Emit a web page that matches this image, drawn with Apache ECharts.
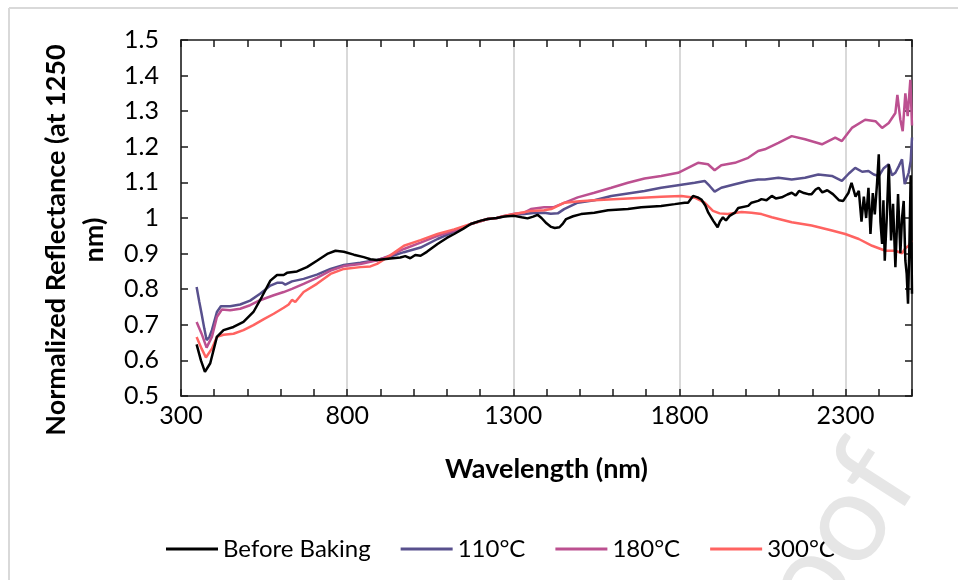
<html>
<head>
<meta charset="utf-8">
<title>Reflectance</title>
<script src="https://cdn.jsdelivr.net/npm/echarts@6/dist/echarts.min.js"></script>
</head>
<body style="margin:0">
<div id="main" style="width:958px;height:580px;"></div>
<script type="text/javascript">
// series names and colours
var names = ['Before Baking', '110°C', '180°C', '300°C'];
var colors = ['#000000', '#58508d', '#bc5090', '#ff6361'];

// Before Baking
var bbNm = [347, 360, 372, 388, 408, 428, 458, 488, 518, 543, 569, 589, 609, 619, 649, 679, 709, 740, 765, 790, 820, 850, 870, 890, 930, 960, 975, 990, 1005, 1021, 1040, 1072, 1100, 1122, 1150, 1172, 1200, 1223, 1250, 1273, 1303, 1325, 1343, 1360, 1373, 1385, 1400, 1414, 1425, 1439, 1450, 1459, 1480, 1504, 1544, 1585, 1645, 1685, 1745, 1786, 1816, 1826, 1841, 1855, 1866, 1878, 1887, 1902, 1915, 1922, 1931, 1940, 1951, 1967, 1977, 2007, 2017, 2037, 2047, 2062, 2078, 2090, 2108, 2125, 2138, 2150, 2160, 2175, 2188, 2198, 2210, 2219, 2230, 2245, 2262, 2280, 2293, 2309, 2318, 2330, 2340, 2348, 2355, 2362, 2369, 2375, 2382, 2388, 2395, 2400, 2405, 2410, 2414, 2418, 2424, 2430, 2437, 2443, 2450, 2454, 2458, 2465, 2470, 2475, 2480, 2484, 2488, 2492, 2496, 2500];
var bbVal = [0.645, 0.600, 0.568, 0.592, 0.666, 0.685, 0.694, 0.708, 0.736, 0.778, 0.824, 0.840, 0.840, 0.846, 0.850, 0.862, 0.880, 0.899, 0.908, 0.905, 0.897, 0.890, 0.884, 0.882, 0.886, 0.889, 0.893, 0.887, 0.896, 0.894, 0.905, 0.927, 0.944, 0.955, 0.970, 0.983, 0.992, 0.997, 1.000, 1.004, 1.006, 1.002, 0.999, 1.004, 1.009, 1.000, 0.985, 0.975, 0.972, 0.974, 0.985, 0.997, 1.005, 1.011, 1.015, 1.022, 1.025, 1.030, 1.034, 1.039, 1.043, 1.043, 1.062, 1.058, 1.052, 1.035, 1.015, 0.992, 0.974, 0.990, 1.002, 0.993, 1.006, 1.015, 1.028, 1.034, 1.043, 1.048, 1.053, 1.050, 1.062, 1.055, 1.058, 1.066, 1.071, 1.063, 1.076, 1.070, 1.067, 1.067, 1.080, 1.085, 1.072, 1.078, 1.067, 1.050, 1.048, 1.071, 1.099, 1.060, 1.076, 0.990, 1.060, 1.000, 1.085, 0.955, 1.070, 1.010, 1.100, 1.179, 0.990, 0.927, 1.050, 0.880, 1.000, 1.151, 0.937, 1.040, 0.862, 0.960, 1.067, 0.901, 1.000, 1.048, 0.880, 0.843, 0.759, 0.918, 1.120, 0.787];

// 110°C
var b110Nm = [347, 355, 362, 370, 377, 385, 393, 408, 420, 448, 478, 508, 538, 569, 589, 605, 614, 634, 669, 709, 750, 790, 840, 890, 930, 971, 1021, 1072, 1122, 1172, 1223, 1250, 1273, 1303, 1333, 1360, 1393, 1413, 1434, 1453, 1494, 1544, 1595, 1645, 1695, 1745, 1796, 1846, 1876, 1891, 1906, 1926, 1967, 2007, 2037, 2057, 2098, 2138, 2178, 2218, 2259, 2289, 2310, 2329, 2350, 2369, 2385, 2400, 2415, 2430, 2440, 2450, 2460, 2470, 2478, 2490, 2496, 2500];
var b110Val = [0.806, 0.765, 0.731, 0.690, 0.657, 0.665, 0.685, 0.736, 0.752, 0.752, 0.757, 0.768, 0.787, 0.810, 0.818, 0.818, 0.813, 0.822, 0.829, 0.841, 0.857, 0.868, 0.874, 0.882, 0.892, 0.904, 0.917, 0.941, 0.962, 0.983, 0.997, 1.000, 1.005, 1.010, 1.011, 1.014, 1.015, 1.012, 1.013, 1.025, 1.043, 1.050, 1.062, 1.069, 1.076, 1.085, 1.092, 1.099, 1.104, 1.090, 1.074, 1.085, 1.095, 1.104, 1.108, 1.108, 1.113, 1.108, 1.113, 1.122, 1.118, 1.104, 1.125, 1.141, 1.130, 1.132, 1.122, 1.118, 1.140, 1.151, 1.120, 1.127, 1.145, 1.165, 1.095, 1.127, 1.160, 1.226];

// 180°C
var b180Nm = [347, 362, 377, 393, 408, 423, 448, 478, 508, 538, 579, 609, 634, 669, 709, 750, 790, 840, 890, 930, 971, 1021, 1072, 1122, 1172, 1223, 1250, 1273, 1303, 1333, 1353, 1393, 1420, 1444, 1494, 1544, 1595, 1645, 1695, 1745, 1796, 1826, 1856, 1886, 1906, 1926, 1967, 2007, 2037, 2057, 2098, 2138, 2178, 2229, 2269, 2289, 2319, 2359, 2390, 2410, 2430, 2450, 2456, 2465, 2472, 2480, 2487, 2495, 2500];
var b180Val = [0.708, 0.675, 0.636, 0.666, 0.722, 0.743, 0.741, 0.745, 0.755, 0.769, 0.783, 0.792, 0.801, 0.815, 0.832, 0.852, 0.865, 0.871, 0.881, 0.895, 0.913, 0.931, 0.950, 0.964, 0.983, 0.997, 1.000, 1.006, 1.012, 1.015, 1.025, 1.030, 1.030, 1.039, 1.058, 1.071, 1.085, 1.099, 1.111, 1.118, 1.127, 1.141, 1.155, 1.151, 1.134, 1.148, 1.155, 1.169, 1.188, 1.193, 1.211, 1.230, 1.221, 1.207, 1.226, 1.216, 1.253, 1.276, 1.272, 1.253, 1.267, 1.295, 1.346, 1.276, 1.244, 1.350, 1.286, 1.388, 1.260];

// 300°C
var b300Nm = [347, 362, 375, 393, 408, 428, 458, 488, 518, 548, 579, 609, 624, 634, 644, 669, 709, 750, 790, 840, 870, 890, 930, 971, 1021, 1072, 1122, 1172, 1223, 1250, 1273, 1303, 1353, 1393, 1414, 1454, 1500, 1544, 1645, 1745, 1806, 1846, 1876, 1901, 1921, 1946, 1987, 2017, 2047, 2078, 2138, 2198, 2259, 2299, 2340, 2380, 2420, 2450, 2470, 2480, 2490, 2500];
var b300Val = [0.666, 0.633, 0.608, 0.633, 0.666, 0.672, 0.675, 0.685, 0.699, 0.715, 0.731, 0.748, 0.757, 0.770, 0.764, 0.792, 0.815, 0.843, 0.857, 0.862, 0.864, 0.871, 0.895, 0.922, 0.938, 0.955, 0.968, 0.983, 0.997, 1.000, 1.006, 1.011, 1.020, 1.022, 1.025, 1.043, 1.047, 1.050, 1.055, 1.060, 1.062, 1.057, 1.043, 1.020, 1.013, 1.011, 1.017, 1.015, 1.011, 1.002, 0.988, 0.979, 0.965, 0.955, 0.941, 0.922, 0.908, 0.908, 0.901, 0.915, 0.922, 0.937];

// axis ticks
var xMin = 300, xMax = 2500, xMinor = 100, xMajor = 500;
var yMin = 0.5, yMax = 1.5, yStep = 0.1;

function zip(xs, ys) {
    var out = [];
    for (var i = 0; i < xs.length; i++) out.push([xs[i], ys[i]]);
    return out;
}
var allNm = [bbNm, b110Nm, b180Nm, b300Nm];
var allVal = [bbVal, b110Val, b180Val, b300Val];

var font = 'Lato, "Noto Sans", sans-serif';
var axisLineStyle = { color: '#1a1a1a', width: 1.5 };
// grey line every 500 nm, none in between
var gridColors = ['#d9d9d9', 'rgba(0,0,0,0)', 'rgba(0,0,0,0)', 'rgba(0,0,0,0)', 'rgba(0,0,0,0)'];

var myChart = echarts.init(document.getElementById('main'));

var series = [];
for (var i = 0; i < names.length; i++) {
    series.push({
        name: names[i],
        type: 'line',
        symbol: 'none',
        z: i === 0 ? 4 : 3,
        data: zip(allNm[i], allVal[i]),
        lineStyle: { color: colors[i], width: 2.5 },
        itemStyle: { color: colors[i] }
    });
}

var option = {
    backgroundColor: '#fff',
    animation: false,
    textStyle: { fontFamily: font },
    grid: { left: 181, right: 46, top: 40, bottom: 184, outerBoundsMode: 'none' },
    legend: {
        data: names,
        left: 161,
        top: 532,
        icon: 'rect',
        itemWidth: 52,
        itemHeight: 3,
        itemGap: 30,
        textStyle: { fontSize: 24, color: '#000', fontFamily: font }
    },
    xAxis: [{
        type: 'value',
        position: 'bottom',
        min: xMin, max: xMax, interval: xMinor,
        name: 'Wavelength (nm)',
        nameLocation: 'middle',
        nameGap: 60,
        nameTextStyle: { fontSize: 27, fontWeight: 'bold', color: '#000', fontFamily: font },
        axisLine: { onZero: false, lineStyle: axisLineStyle },
        axisTick: { inside: true, length: 7, lineStyle: axisLineStyle },
        axisLabel: {
            fontSize: 25, color: '#000', margin: 7, fontFamily: font,
            formatter: function (v) { return (v - xMin) % xMajor === 0 ? String(v) : ''; }
        },
        splitLine: { show: true, lineStyle: { color: gridColors, width: 2 } }
    }, {
        type: 'value',
        position: 'top',
        min: xMin, max: xMax, interval: xMinor,
        axisLine: { onZero: false, lineStyle: axisLineStyle },
        axisTick: { inside: true, length: 7, lineStyle: axisLineStyle },
        axisLabel: { show: false },
        splitLine: { show: false }
    }],
    yAxis: [{
        type: 'value',
        position: 'left',
        min: yMin, max: yMax, interval: yStep,
        name: 'Normalized Reflectance (at 1250\nnm)',
        nameLocation: 'middle',
        nameRotate: 90,
        nameGap: 62,
        nameTextStyle: { fontSize: 27, fontWeight: 'bold', color: '#000', lineHeight: 38, fontFamily: font, padding: [0, 44, 0, 0] },
        axisLine: { onZero: false, lineStyle: axisLineStyle },
        axisTick: { inside: true, length: 7, lineStyle: axisLineStyle },
        axisLabel: { fontSize: 25, color: '#000', margin: 22, fontFamily: font },
        splitLine: { show: false }
    }, {
        type: 'value',
        position: 'right',
        min: yMin, max: yMax, interval: yStep,
        axisLine: { onZero: false, lineStyle: axisLineStyle },
        axisTick: { inside: true, length: 7, lineStyle: axisLineStyle },
        axisLabel: { show: false },
        splitLine: { show: false }
    }],
    graphic: [
        { type: 'line', shape: { x1: 9, y1: 8, x2: 958, y2: 8 }, style: { stroke: '#d9d9d9', lineWidth: 2 }, silent: true },
        { type: 'line', shape: { x1: 9, y1: 8, x2: 9, y2: 580 }, style: { stroke: '#d9d9d9', lineWidth: 2 }, silent: true },
        {
            type: 'text', x: 940, y: 492, rotation: 1.0, z: 100, silent: true,
            style: { text: 'Journal Pre-proof', fill: '#e6e6e6', fontSize: 125, fontFamily: font, align: 'right', verticalAlign: 'bottom' }
        }
    ],
    series: series
};

myChart.setOption(option);
</script>
</body>
</html>
